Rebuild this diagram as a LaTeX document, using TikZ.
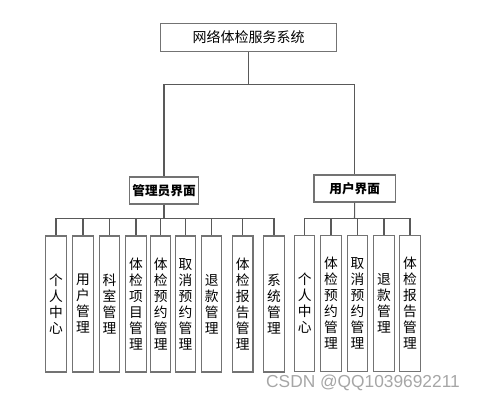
\documentclass[tikz,border=0pt]{standalone}
\usepackage{fontspec}
\setmainfont{Noto Sans CJK SC}
\newfontfamily\wmfont{Liberation Sans}
\begin{document}
\begin{tikzpicture}[x=0.75pt,y=-0.75pt]
	\tikzset{box/.style = {draw=black!55,line width=0.9pt,inner sep=0pt,fill=white}}
	\tikzset{leaf/.style = {box,minimum width=15.2pt,minimum height=102pt,align=center,font=\fontsize{10.3pt}{12pt}\selectfont}}
	\tikzset{head/.style = {box,minimum height=20.3pt,font=\fontsize{9.5pt}{11pt}\selectfont\bfseries}}
	\tikzset{link/.style = {draw=black!65,line width=0.8pt}}
	\useasboundingbox (0,0) rectangle (477,401);
	\node[box,minimum width=131.7pt,minimum height=20.5pt,font=\fontsize{10.5pt}{12pt}\selectfont] (sys) at (248.5,37.5) {网络体检服务系统};
	\node[head,minimum width=51.5pt] (admin) at (164,190.5) {管理员界面};
	\node[head,minimum width=61pt] (user) at (354.7,188.5) {用户界面};
	\coordinate (top) at (248.5,84.7);
	\coordinate (abus) at (164,218.3);
	\coordinate (ubus) at (354.5,218.5);
	% admin leaves
	\node[leaf] (a1) at (56,303.9) {个\\人\\中\\心};
	\node[leaf] (a2) at (83,303.9) {用\\户\\管\\理};
	\node[leaf] (a3) at (109.5,303.9) {科\\室\\管\\理};
	\node[leaf] (a4) at (136,303.9) {体\\检\\项\\目\\管\\理};
	\node[leaf] (a5) at (160.7,303.9) {体\\检\\预\\约\\管\\理};
	\node[leaf] (a6) at (185.5,303.9) {取\\消\\预\\约\\管\\理};
	\node[leaf] (a7) at (211.7,303.9) {退\\款\\管\\理};
	\node[leaf] (a8) at (242.8,303.9) {体\\检\\报\\告\\管\\理};
	\node[leaf] (a9) at (274,303.9) {系\\统\\管\\理};
	% user leaves
	\node[leaf] (u1) at (304.7,303.4) {个\\人\\中\\心};
	\node[leaf] (u2) at (331,303.4) {体\\检\\预\\约\\管\\理};
	\node[leaf] (u3) at (357.5,303.4) {取\\消\\预\\约\\管\\理};
	\node[leaf] (u4) at (384,303.4) {退\\款\\管\\理};
	\node[leaf] (u5) at (410,303.4) {体\\检\\报\\告\\管\\理};
	\draw[link] (sys.south) -- (top);
	\draw[link] (top) -| (admin.north);
	\draw[link] (top) -| (user.north);
	\draw[link] (admin.south) -- (abus);
	\draw[link] (user.south) -- (ubus);
	\draw[link] (abus) -| (a1.north);
	\draw[link] (abus) -| (a2.north);
	\draw[link] (abus) -| (a3.north);
	\draw[link] (abus) -| (a4.north);
	\draw[link] (abus) -| (a5.north);
	\draw[link] (abus) -| (a6.north);
	\draw[link] (abus) -| (a7.north);
	\draw[link] (abus) -| (a8.north);
	\draw[link] (abus) -| (a9.north);
	\draw[link] (ubus) -| (u1.north);
	\draw[link] (ubus) -| (u2.north);
	\draw[link] (ubus) -| (u3.north);
	\draw[link] (ubus) -| (u4.north);
	\draw[link] (ubus) -| (u5.north);
	\node[text=black!35,font=\wmfont\fontsize{13pt}{15pt}\selectfont] (mark) at (363,382.7) {CSDN @QQ1039692211};
\end{tikzpicture}
\end{document}
